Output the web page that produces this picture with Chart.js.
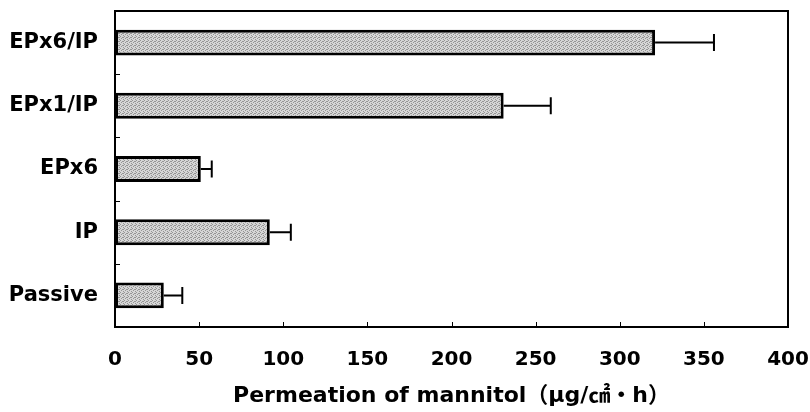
<!DOCTYPE html>
<html>
<head>
<meta charset="utf-8">
<script src="https://cdn.jsdelivr.net/npm/chart.js@4.4.1/dist/chart.umd.min.js"></script>
<style>
  html, body { margin: 0; padding: 0; background: #fff; }
  #c { display: block; }
</style>
</head>
<body>
<canvas id="c" width="810" height="412"></canvas>
<script>
// Permeation of mannitol per treatment group (mean and upper error)
const categories = ['EPx6/IP', 'EPx1/IP', 'EPx6', 'IP', 'Passive'];
const permeation = [321, 231, 51, 92, 29];
const errorPlus = [35, 28, 6.5, 12.5, 11];
const xTickValues = [0, 50, 100, 150, 200, 250, 300, 350, 400];
const axisTitle = 'Permeation of mannitol\uFF08\u03BCg/\u33A0\u30FBh\uFF09';

const FONT_FAMILY = '"DejaVu Sans", "Noto Sans CJK JP", sans-serif';

const canvas = document.getElementById('c');
const ctx = canvas.getContext('2d');

// fine grey stipple used to fill the bars
function stipplePattern() {
  const t = document.createElement('canvas');
  t.width = 4; t.height = 4;
  const g = t.getContext('2d');
  g.fillStyle = '#d6d6d6';
  g.fillRect(0, 0, 4, 4);
  g.fillStyle = '#959595';
  [[0, 0], [2, 1], [1, 2], [3, 3], [3, 1]].forEach(([x, y]) => g.fillRect(x, y, 1, 1));
  return ctx.createPattern(t, 'repeat');
}

// frame, inward tick marks and one-sided error bars
const decorations = {
  id: 'decorations',
  afterDatasetsDraw(chart) {
    const { ctx, chartArea: a, scales: { x, y } } = chart;
    ctx.save();
    ctx.strokeStyle = '#000';

    // error bars
    ctx.lineWidth = 2;
    const meta = chart.getDatasetMeta(0);
    meta.data.forEach((bar, i) => {
      const x0 = x.getPixelForValue(permeation[i]);
      const x1 = x.getPixelForValue(permeation[i] + errorPlus[i]);
      const cy = bar.y;
      ctx.beginPath();
      ctx.moveTo(x0, cy);
      ctx.lineTo(x1, cy);
      ctx.moveTo(x1, cy - 8.5);
      ctx.lineTo(x1, cy + 8.5);
      ctx.stroke();
    });

    // x ticks pointing up into the plot
    ctx.lineWidth = 1;
    xTickValues.slice(1, -1).forEach(v => {
      const px = Math.round(x.getPixelForValue(v)) + 0.5;
      ctx.beginPath();
      ctx.moveTo(px, a.bottom);
      ctx.lineTo(px, a.bottom - 5);
      ctx.stroke();
    });

    // category boundary ticks pointing right into the plot
    for (let i = 1; i < categories.length; i++) {
      const py = Math.round((y.getPixelForValue(i - 1) + y.getPixelForValue(i)) / 2) + 0.5;
      ctx.beginPath();
      ctx.moveTo(a.left, py);
      ctx.lineTo(a.left + 5, py);
      ctx.stroke();
    }

    // plot frame
    ctx.lineWidth = 2;
    ctx.strokeRect(a.left, a.top, a.right - a.left, a.bottom - a.top);
    ctx.restore();
  }
};

new Chart(ctx, {
  type: 'bar',
  data: {
    labels: categories,
    datasets: [{
      data: permeation,
      backgroundColor: stipplePattern(),
      borderColor: '#000',
      borderWidth: 3,
      borderSkipped: false,
      categoryPercentage: 1,
      barPercentage: 0.41
    }]
  },
  options: {
    indexAxis: 'y',
    responsive: false,
    animation: false,
    events: [],
    layout: { padding: { top: 11, right: 22, left: 0, bottom: 0 } },
    plugins: {
      legend: { display: false },
      tooltip: { enabled: false }
    },
    scales: {
      x: {
        min: 0,
        max: 400,
        afterBuildTicks(scale) { scale.ticks = xTickValues.map(v => ({ value: v })); },
        afterFit(scale) {
          scale.height = 85;
          scale.paddingLeft = 0;
          scale.paddingRight = 0;
        },
        grid: { display: false, drawTicks: false },
        border: { display: false },
        ticks: {
          color: '#000',
          padding: 21,
          maxRotation: 0,
          font: { family: FONT_FAMILY, size: 20, weight: 'bold' }
        },
        title: {
          display: true,
          text: axisTitle,
          color: '#000',
          padding: { top: 1, bottom: 3 },
          font: { family: FONT_FAMILY, size: 22, weight: 'bold' }
        }
      },
      y: {
        afterFit(scale) {
          scale.width = 115;
          scale.paddingTop = 0;
          scale.paddingBottom = 0;
        },
        grid: { display: false, drawTicks: false },
        border: { display: false },
        ticks: {
          color: '#000',
          padding: 17,
          font: { family: FONT_FAMILY, size: 21, weight: 'bold' }
        }
      }
    }
  },
  plugins: [decorations]
});
</script>
</body>
</html>
